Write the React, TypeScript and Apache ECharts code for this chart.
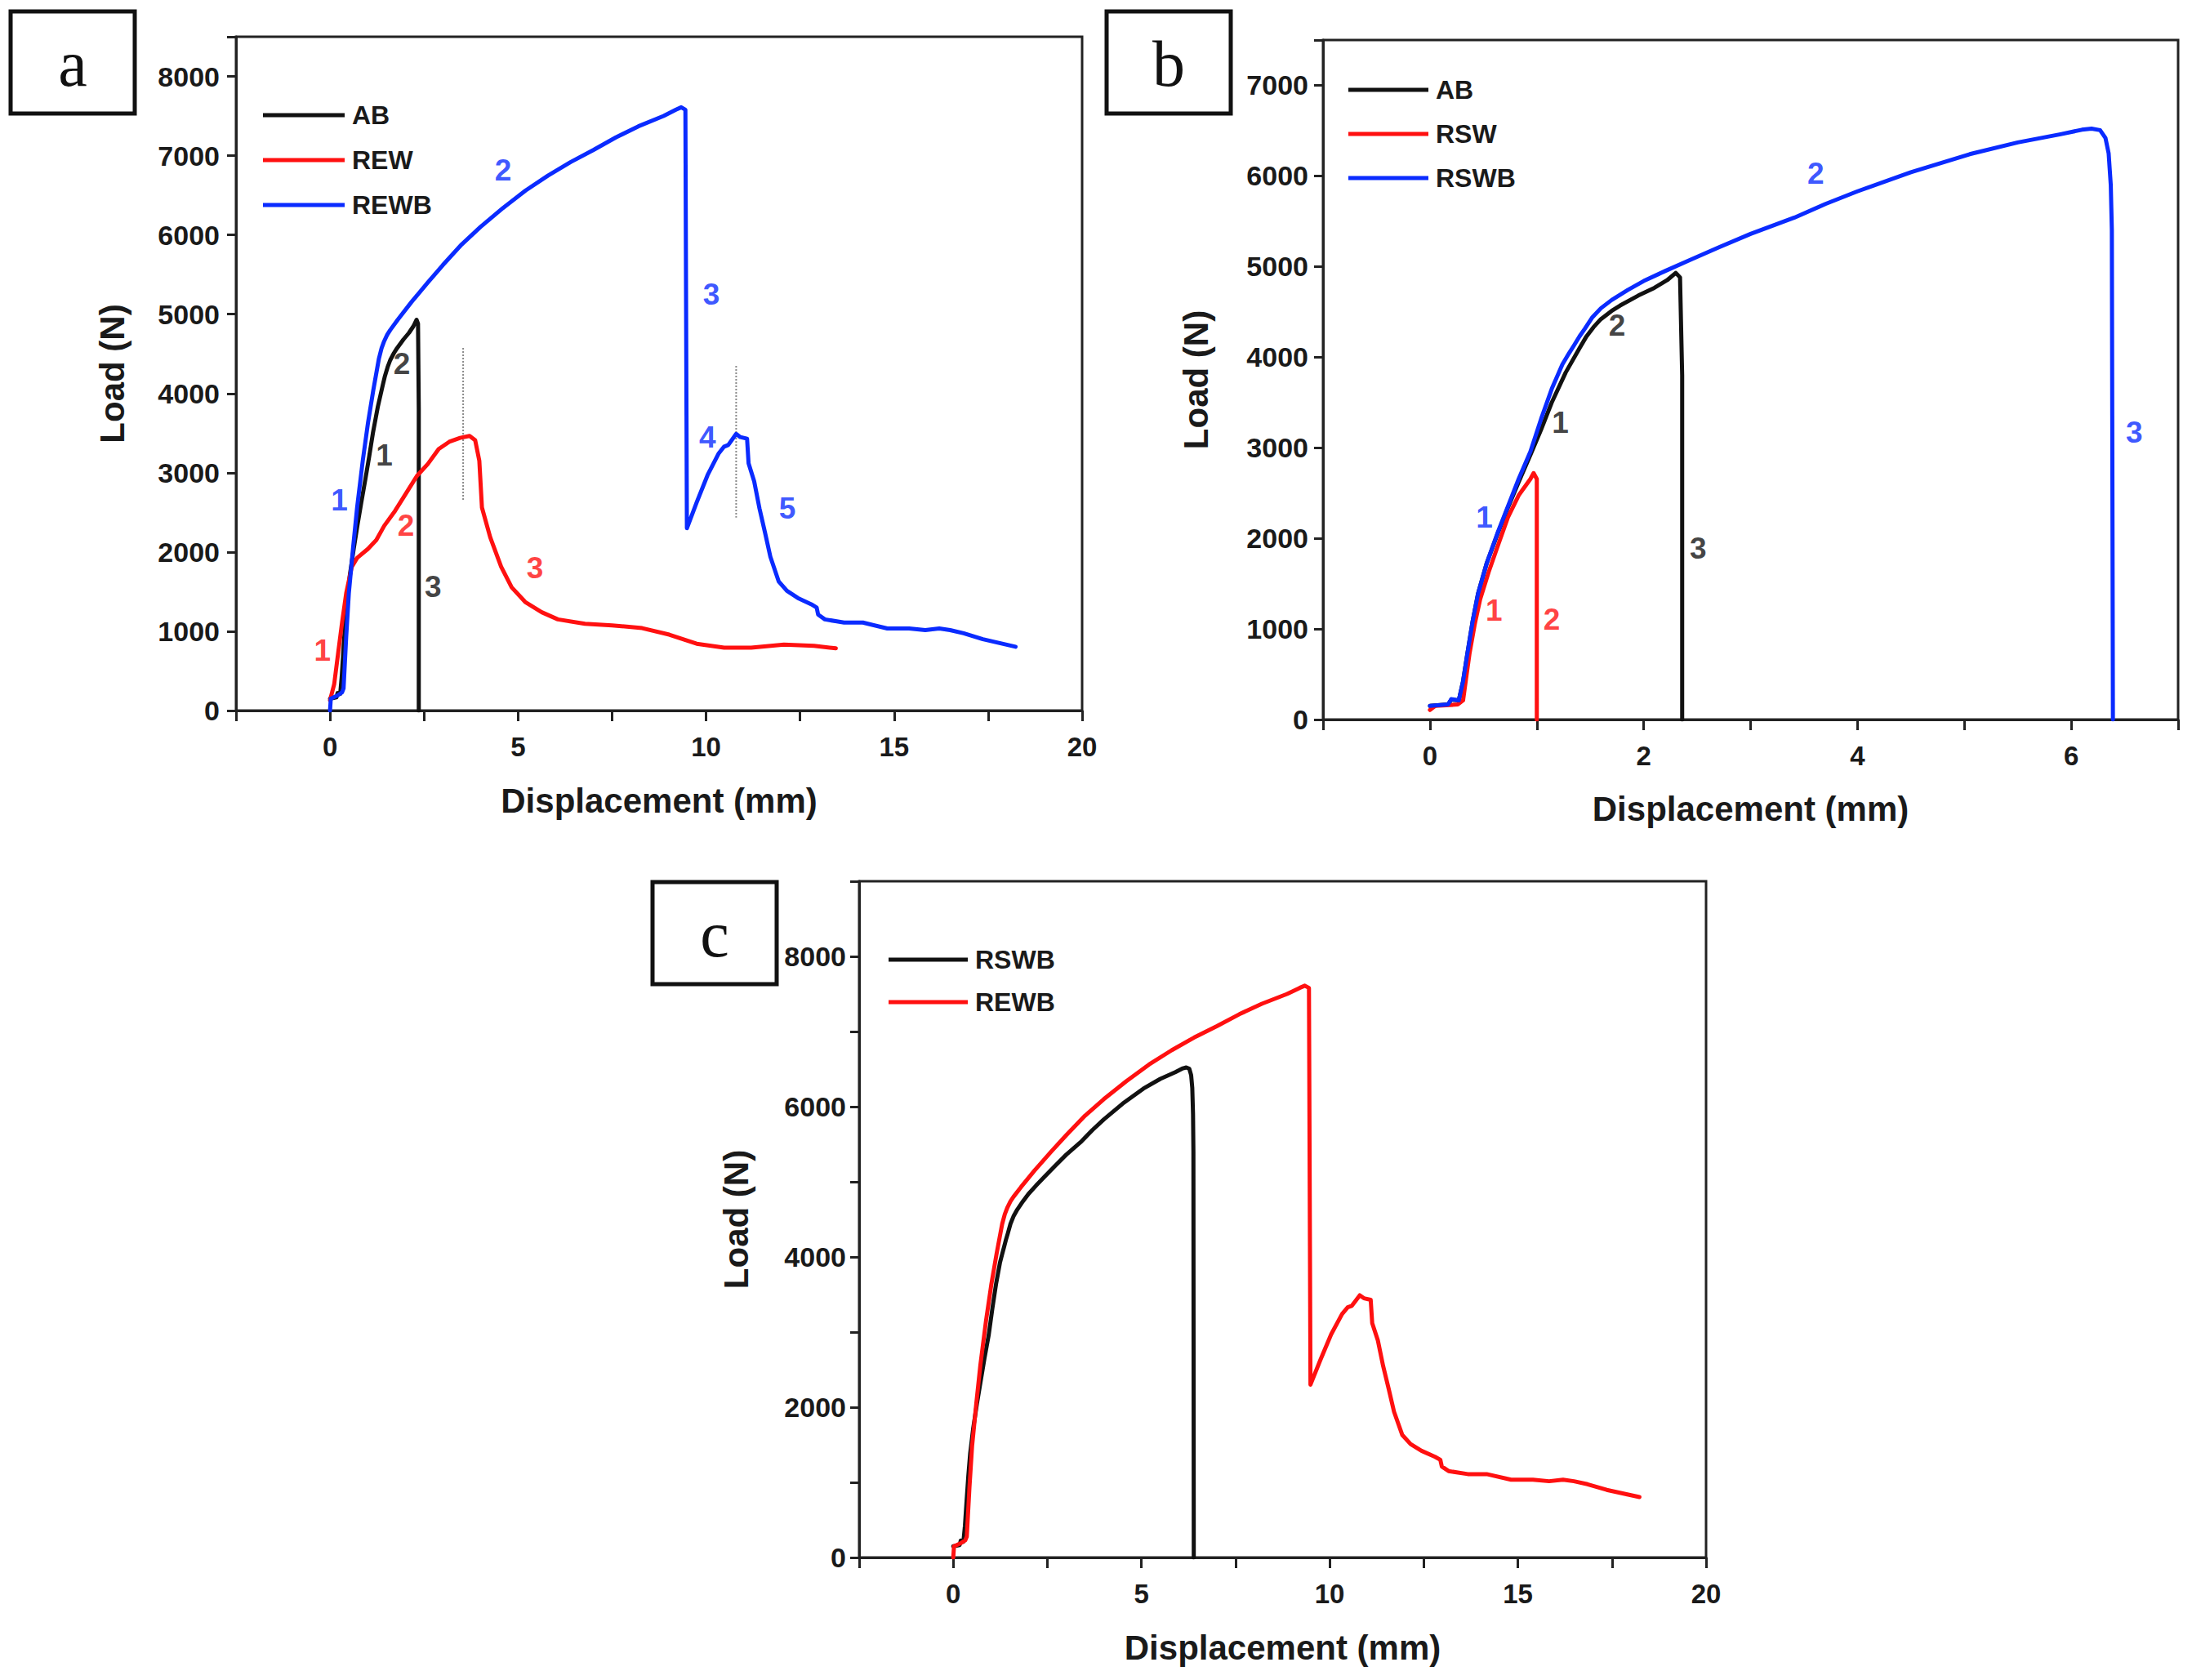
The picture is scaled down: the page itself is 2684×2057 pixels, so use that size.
import * as echarts from "echarts";
import { useEffect, useRef } from "react";

// [displacement (mm), load (N)]
const abCurve = [
  [0, 150], [0.17, 166], [0.2, 220], [0.27, 211], [0.31, 422], [0.35, 724], [0.4, 1086],
  [0.45, 1388], [0.53, 1720], [0.63, 2040], [0.73, 2340], [0.83, 2620], [0.94, 2920],
  [1.04, 3200], [1.14, 3500], [1.27, 3830], [1.4, 4100], [1.46, 4220], [1.53, 4330],
  [1.6, 4420], [1.7, 4510], [1.78, 4570], [1.95, 4680], [2.1, 4765], [2.22, 4850],
  [2.3, 4930], [2.34, 4880], [2.36, 3800], [2.36, 0],
];
const rswCurve = [
  [0, 105], [0.05, 150], [0.26, 166], [0.31, 211], [0.37, 724], [0.42, 1056], [0.47, 1327],
  [0.55, 1629], [0.63, 1900], [0.73, 2232], [0.83, 2474], [0.94, 2655], [0.97, 2720],
  [1.0, 2655], [1.0, 0],
];
const rswbCurve = [
  [0, 150], [0.17, 166], [0.2, 226], [0.27, 211], [0.31, 422], [0.35, 724], [0.4, 1086],
  [0.45, 1388], [0.53, 1720], [0.63, 2051], [0.73, 2353], [0.83, 2655], [0.94, 2956],
  [1.04, 3318], [1.14, 3650], [1.24, 3922], [1.3, 4040], [1.35, 4133], [1.4, 4230],
  [1.45, 4314], [1.52, 4440], [1.6, 4540], [1.7, 4630], [1.85, 4740], [2.0, 4840],
  [2.2, 4950], [2.43, 5070], [2.7, 5210], [3.0, 5360], [3.41, 5540], [3.7, 5690],
  [4.0, 5830], [4.5, 6040], [5.05, 6240], [5.5, 6370], [5.9, 6460], [6.1, 6510],
  [6.19, 6522], [6.27, 6505], [6.32, 6420], [6.35, 6250], [6.37, 5900], [6.38, 5400],
  [6.39, 0],
];
const rewCurve = [
  [0, 130], [0.11, 330], [0.22, 740], [0.32, 1110], [0.43, 1480], [0.58, 1815], [0.72, 1925],
  [1.01, 2040], [1.23, 2150], [1.44, 2330], [1.73, 2520], [2.02, 2740], [2.31, 2960],
  [2.6, 3110], [2.89, 3300], [3.17, 3390], [3.46, 3440], [3.71, 3465], [3.86, 3410],
  [3.97, 3150], [4.04, 2560], [4.26, 2185], [4.55, 1815], [4.83, 1555], [5.19, 1370],
  [5.63, 1240], [6.06, 1150], [6.78, 1095], [7.5, 1075], [8.3, 1040], [9.02, 958],
  [9.75, 843], [10.48, 793], [11.2, 793], [12.07, 831], [12.87, 816], [13.45, 785],
];
const rewbCurve = [
  [0, 0], [0.02, 150], [0.2, 190], [0.32, 230], [0.36, 280], [0.43, 930], [0.5, 1480],
  [0.61, 2040], [0.72, 2560], [0.87, 3150], [1.01, 3630], [1.15, 4040], [1.3, 4440],
  [1.37, 4570], [1.44, 4660], [1.52, 4740], [1.6, 4800], [1.8, 4930], [2.16, 5150],
  [2.6, 5400], [3.0, 5620], [3.5, 5880], [4.0, 6100], [4.6, 6340], [5.2, 6560],
  [5.8, 6750], [6.4, 6920], [7.0, 7070], [7.6, 7230], [8.2, 7370], [8.87, 7500],
  [9.2, 7580], [9.34, 7610], [9.45, 7580], [9.49, 2300], [9.75, 2625], [10.04, 2970],
  [10.33, 3240], [10.48, 3330], [10.59, 3350], [10.8, 3490], [10.91, 3450], [11.09, 3430],
  [11.13, 3120], [11.28, 2890], [11.42, 2550], [11.57, 2240], [11.71, 1940], [11.93, 1630],
  [12.15, 1510], [12.44, 1420], [12.8, 1340], [12.94, 1300], [12.98, 1210], [13.16, 1150],
  [13.67, 1110], [14.17, 1110], [14.82, 1035], [15.4, 1035], [15.83, 1015], [16.2, 1035],
  [16.49, 1015], [16.85, 975], [17.36, 900], [18.23, 805],
];
// dotted guide lines in panel a
const guideA1 = [[3.54, 4574], [3.54, 2648]];
const guideA2 = [[10.8, 4349], [10.8, 2433]];

// stage numbers: [x, y, text, colour key]
const stagesA = [
  [0.25, 2650, "1", "blue"], [1.44, 3222, "1", "black"], [1.91, 4370, "2", "black"],
  [2.74, 1556, "3", "black"], [-0.2, 760, "1", "red"], [2.02, 2333, "2", "red"],
  [5.45, 1796, "3", "red"], [4.6, 6814, "2", "blue"], [10.14, 5250, "3", "blue"],
  [10.04, 3448, "4", "blue"], [12.16, 2548, "5", "blue"],
];
const stagesB = [
  [0.51, 2232, "1", "blue"], [1.22, 3273, "1", "black"], [1.75, 4348, "2", "black"],
  [2.51, 1885, "3", "black"], [0.6, 1207, "1", "red"], [1.14, 1101, "2", "red"],
  [3.61, 6027, "2", "blue"], [6.59, 3169, "3", "blue"],
];

const xLabelsAC = [0, 5, 10, 15, 20];
const xLabelsB = [0, 2, 4, 6];
const yLabelsA = [0, 1000, 2000, 3000, 4000, 5000, 6000, 7000, 8000];
const yLabelsB = [0, 1000, 2000, 3000, 4000, 5000, 6000, 7000];
const yLabelsC = [0, 2000, 4000, 6000, 8000];

const legendA = ["AB", "REW", "REWB"];
const legendB = ["AB ", "RSW", "RSWB"];
const legendC = ["RSWB ", "REWB "];

const COLORS: Record<string, string> = {
  black: "#111111",
  red: "#ff1010",
  blue: "#0a2bff",
};
const AXIS = "#222222";
const FONT = "Liberation Sans, Arial, sans-serif";

function xAxis(gridIndex: number, min: number, max: number, interval: number, labels: number[], nameGap: number) {
  return {
    type: "value",
    gridIndex,
    min,
    max,
    interval,
    name: "Displacement (mm)",
    nameLocation: "middle",
    nameGap,
    nameTextStyle: { fontSize: 42, fontWeight: "bold", color: "#1a1a1a", fontFamily: FONT },
    axisLine: { show: true, onZero: false, lineStyle: { color: AXIS, width: 3 } },
    axisTick: { show: true, length: 13, lineStyle: { color: AXIS, width: 3 } },
    axisLabel: {
      margin: 28,
      fontSize: 33,
      fontWeight: "bold",
      color: "#1a1a1a",
      fontFamily: FONT,
      formatter: (v: number) => (labels.includes(v) ? String(v) : ""),
    },
    splitLine: { show: false },
  };
}

function yAxis(gridIndex: number, max: number, interval: number, labels: number[], nameGap: number, margin: number) {
  return {
    type: "value",
    gridIndex,
    min: 0,
    max,
    interval,
    name: "Load (N)",
    nameLocation: "middle",
    nameGap,
    nameTextStyle: { fontSize: 42, fontWeight: "bold", color: "#1a1a1a", fontFamily: FONT },
    axisLine: { show: true, onZero: false, lineStyle: { color: AXIS, width: 3 } },
    axisTick: { show: true, length: 11, lineStyle: { color: AXIS, width: 3 } },
    axisLabel: {
      margin,
      fontSize: 34,
      fontWeight: "bold",
      color: "#1a1a1a",
      fontFamily: FONT,
      formatter: (v: number) => (labels.includes(v) ? String(v) : ""),
    },
    splitLine: { show: false },
  };
}

function curve(name: string, data: number[][], color: string, axis: number) {
  return {
    name,
    type: "line",
    xAxisIndex: axis,
    yAxisIndex: axis,
    data,
    showSymbol: false,
    symbol: "none",
    color,
    itemStyle: { color },
    lineStyle: { color, width: 5, join: "round", cap: "round" },
    silent: true,
  };
}

function guide(data: number[][], axis: number) {
  return {
    type: "line",
    xAxisIndex: axis,
    yAxisIndex: axis,
    data,
    showSymbol: false,
    symbol: "none",
    lineStyle: { color: "#8a8a8a", width: 2, type: "dotted" },
    silent: true,
  };
}

function stageLabels(list: (number | string)[][], axis: number) {
  return {
    type: "scatter",
    xAxisIndex: axis,
    yAxisIndex: axis,
    symbol: "circle",
    symbolSize: 1,
    itemStyle: { color: "transparent" },
    silent: true,
    z: 5,
    data: list.map(([x, y, t, k]) => ({
      value: [x, y],
      label: {
        show: true,
        position: "inside",
        formatter: String(t),
        color: COLORS[k as string],
        fontSize: 37,
        fontWeight: "bold",
        fontFamily: FONT,
      },
    })),
  };
}

function legend(data: string[], left: number, top: number, itemWidth: number, itemGap: number) {
  return {
    data,
    orient: "vertical",
    left,
    top,
    icon: "rect",
    itemWidth,
    itemHeight: 5,
    itemGap,
    selectedMode: false,
    formatter: (n: string) => n.trim(),
    textStyle: { fontSize: 32, fontWeight: "bold", color: "#1a1a1a", fontFamily: FONT, padding: [0, 0, 0, 4] },
  };
}

function letterBox(letter: string, x: number, y: number) {
  return {
    type: "group",
    children: [
      {
        type: "rect",
        shape: { x, y, width: 152, height: 125 },
        style: { fill: "#ffffff", stroke: "#111111", lineWidth: 5 },
      },
      {
        type: "text",
        x: x + 76,
        y: y + 64,
        style: {
          text: letter,
          fontSize: 80,
          fontFamily: "Liberation Serif, Times New Roman, serif",
          fill: "#111111",
          align: "center",
          verticalAlign: "middle",
        },
      },
    ],
  };
}

export default function App() {
  const chartRef = useRef<HTMLDivElement>(null);

  useEffect(() => {
    if (!chartRef.current) return;
    const chart = echarts.init(chartRef.current, undefined, { renderer: "svg" });
    const gridStyle = { show: true, borderColor: AXIS, borderWidth: 3, backgroundColor: "transparent" };
    chart.setOption({
      animation: false,
      backgroundColor: "#ffffff",
      grid: [
        { left: 289, top: 45, width: 1036, height: 825, ...gridStyle },
        { left: 1620, top: 49, width: 1047, height: 832, ...gridStyle },
        { left: 1052, top: 1079, width: 1037, height: 828, ...gridStyle },
      ],
      xAxis: [
        xAxis(0, -2.5, 20, 2.5, xLabelsAC, 89),
        xAxis(1, -1, 7, 1, xLabelsB, 88),
        xAxis(2, -2.5, 20, 2.5, xLabelsAC, 89),
      ],
      yAxis: [
        yAxis(0, 8500, 1000, yLabelsA, 131, 20),
        yAxis(1, 7500, 1000, yLabelsB, 135, 18),
        yAxis(2, 9000, 1000, yLabelsC, 130, 16),
      ],
      legend: [
        legend(legendA, 317, 120, 100, 23),
        legend(legendB, 1646, 89, 98, 22),
        legend(legendC, 1083, 1154, 97, 20),
      ],
      graphic: [letterBox("a", 13, 14), letterBox("b", 1355, 14), letterBox("c", 799, 1080)],
      series: [
        guide(guideA1, 0),
        guide(guideA2, 0),
        curve("AB", abCurve, COLORS.black, 0),
        curve("REW", rewCurve, COLORS.red, 0),
        curve("REWB", rewbCurve, COLORS.blue, 0),
        stageLabels(stagesA, 0),
        curve("AB ", abCurve, COLORS.black, 1),
        curve("RSW", rswCurve, COLORS.red, 1),
        curve("RSWB", rswbCurve, COLORS.blue, 1),
        stageLabels(stagesB, 1),
        curve("RSWB ", rswbCurve, COLORS.black, 2),
        curve("REWB ", rewbCurve, COLORS.red, 2),
      ],
    });

    const onResize = () => chart.resize();
    window.addEventListener("resize", onResize);
    return () => {
      window.removeEventListener("resize", onResize);
      chart.dispose();
    };
  }, []);

  return (
    <div
      ref={chartRef}
      style={{ position: "fixed", left: 0, top: 0, width: 2684, height: 2057 }}
    />
  );
}
